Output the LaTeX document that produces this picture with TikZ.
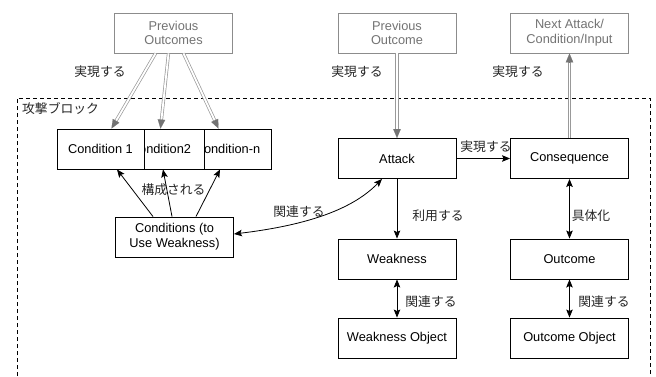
\documentclass[tikz,border=0pt]{standalone}
\usepackage{fontspec}
\setmainfont{Liberation Sans}
\newfontfamily\jp{Noto Sans CJK JP}
\usetikzlibrary{arrows.meta,calc}
\newcommand\dblarrow[2]{%
  \draw[dbl, shorten >=8pt] (#1) -- (#2);
  \draw[gtip] ($(#2)!8.5pt!(#1)$) -- (#2);}
\begin{document}
\begin{tikzpicture}[x=1pt,y=-1pt, font=\fontsize{12.8}{14.8}\selectfont,
  box/.style={draw, fill=white, line width=0.9pt, minimum width=87pt, minimum height=40pt, inner sep=0pt, align=center},
  wbox/.style={box, minimum width=118pt},
  gbox/.style={wbox, draw=black!45, text=black!55},
  lab/.style={font=\fontsize{12.8}{14.8}\selectfont\jp, inner sep=0pt, text=black!85},
  arr/.style={-{Stealth[length=8pt,width=6.5pt,inset=1.5pt]}, line width=0.8pt},
  barr/.style={{Stealth[length=8pt,width=6.5pt,inset=1.5pt]}-{Stealth[length=8pt,width=6.5pt,inset=1.5pt]}, line width=0.8pt},
  dbl/.style={draw=black!40, double=white, double distance=1.8pt, line width=0.7pt},
  gtip/.style={-{Triangle[length=9pt,width=7.5pt]}, draw=black!55, line width=0.1pt}
]
\useasboundingbox (0,0) rectangle (656,376);
% block frame
\draw[dash pattern=on 4pt off 3pt, line width=0.8pt] (17,376) -- (17,98) -- (650,98) -- (650,376);
\node[lab, anchor=west] (blk) at (22,109) {攻撃ブロック};
% outer nodes
\node[gbox] (po) at (173.5,33) {Previous\\Outcomes};
\node[gbox] (pO) at (397,33) {Previous\\Outcome};
\node[gbox] (na) at (569.5,33) {Next Attack/\\Condition/Input};
% conditions
\node[box] (cn) at (227.5,149) {Condition-n};
\node[box] (c2) at (160.5,149) {Condition2};
\node[box] (c1) at (100.5,149) {Condition 1};
\node[wbox] (cond) at (174.5,237) {Conditions (to\\Use Weakness)};
% main column
\node[wbox] (att) at (397,158.5) {Attack};
\node[wbox] (cons) at (569.5,158.5) {Consequence};
\node[wbox] (weak) at (397,259) {Weakness};
\node[wbox] (out) at (569.5,259) {Outcome};
\node[wbox] (wo) at (397,338) {Weakness Object};
\node[wbox] (oo) at (569.5,338) {Outcome Object};
% double grey arrows
\coordinate (a1) at ([xshift=-18pt]po.south);
\coordinate (b1) at ([xshift=11pt]c1.north);
\coordinate (a2) at ([xshift=-5pt]po.south);
\coordinate (b2) at (c2.north);
\coordinate (a3) at ([xshift=10pt]po.south);
\coordinate (b3) at ([xshift=-9pt]cn.north);
\dblarrow{a1}{b1}
\dblarrow{a2}{b2}
\dblarrow{a3}{b3}
\dblarrow{pO.south}{att.north}
\dblarrow{cons.north}{na.south}
% black arrows
\draw[arr] (att.east) -- (cons.west);
\draw[arr] (att.south) -- (weak.north);
\draw[barr] (cons.south) -- (out.north);
\draw[barr] (weak.south) -- (wo.north);
\draw[barr] (out.south) -- (oo.north);
\draw[arr] ([xshift=-21.5pt]cond.north) -- ([xshift=16.5pt]c1.south);
\draw[arr] ([xshift=-2.5pt]cond.north) -- ([xshift=2.5pt]c2.south);
\draw[arr] ([xshift=21.5pt]cond.north) -- ([xshift=-7.5pt]cn.south);
\draw[barr] ([yshift=3pt]cond.east) .. controls (300,226) and (350,212) .. ([xshift=-15pt]att.south);
% labels
\node[lab] at (100,72) {実現する};
\node[lab] at (357,72) {実現する};
\node[lab] at (518,72) {実現する};
\node[lab] at (486,147) {実現する};
\node[lab] at (438,216) {利用する};
\node[lab] at (591,216) {具体化};
\node[lab] at (431,302) {関連する};
\node[lab] at (604,302) {関連する};
\node[lab] at (299,212) {関連する};
\node[lab] at (173.5,190) {構成される};
\end{tikzpicture}
\end{document}
